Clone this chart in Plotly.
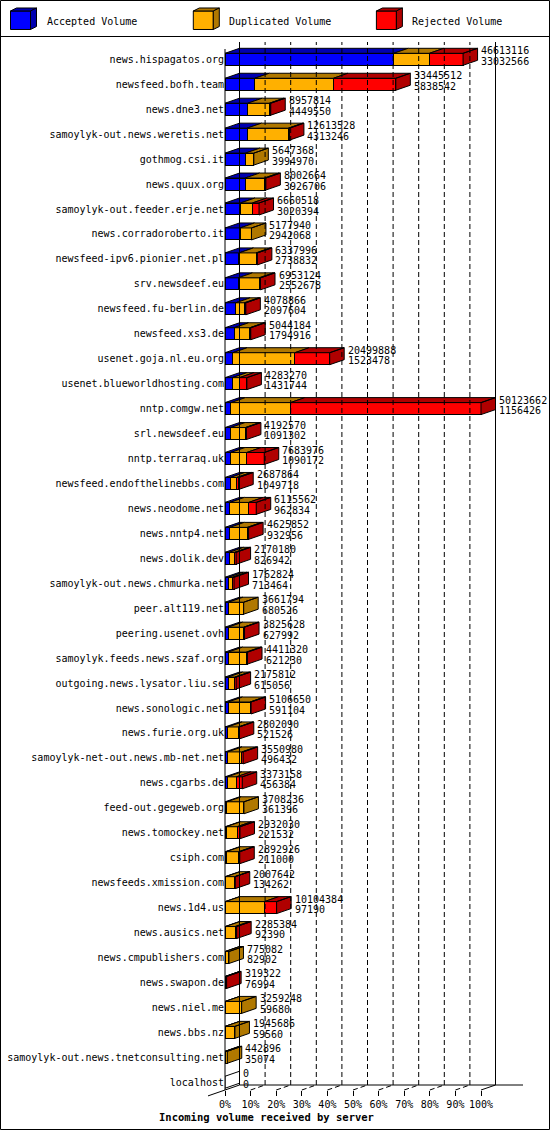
import plotly.graph_objects as go

# incoming volume per server (bytes)
servers = [
    "news.hispagatos.org", "newsfeed.bofh.team", "news.dne3.net",
    "samoylyk-out.news.weretis.net", "gothmog.csi.it", "news.quux.org",
    "samoylyk-out.feeder.erje.net", "news.corradoroberto.it",
    "newsfeed-ipv6.pionier.net.pl", "srv.newsdeef.eu", "newsfeed.fu-berlin.de",
    "newsfeed.xs3.de", "usenet.goja.nl.eu.org", "usenet.blueworldhosting.com",
    "nntp.comgw.net", "srl.newsdeef.eu", "nntp.terraraq.uk",
    "newsfeed.endofthelinebbs.com", "news.neodome.net", "news.nntp4.net",
    "news.dolik.dev", "samoylyk-out.news.chmurka.net", "peer.alt119.net",
    "peering.usenet.ovh", "samoylyk.feeds.news.szaf.org",
    "outgoing.news.lysator.liu.se", "news.sonologic.net", "news.furie.org.uk",
    "samoylyk-net-out.news.mb-net.net", "news.cgarbs.de", "feed-out.gegeweb.org",
    "news.tomockey.net", "csiph.com", "newsfeeds.xmission.com", "news.1d4.us",
    "news.ausics.net", "news.cmpublishers.com", "news.swapon.de", "news.niel.me",
    "news.bbs.nz", "samoylyk-out.news.tnetconsulting.net", "localhost",
]
total = [
    46613116, 33445512, 8957814, 12613528, 5647368, 8002664, 6660518, 5177940,
    6337996, 6953124, 4078866, 5044184, 20499888, 4283270, 50123662, 4192570,
    7683976, 2687864, 6115562, 4625852, 2170180, 1762824, 3661794, 3825628,
    4411320, 2175812, 5106650, 2802090, 3550980, 3373158, 3708236, 2932030,
    2892926, 2007642, 10104384, 2285384, 775082, 319322, 3259248, 1945686,
    442896, 0,
]
accepted = [
    33032566, 5838542, 4449550, 4313246, 3994970, 3926706, 3020394, 2942068,
    2738832, 2552678, 2097604, 1794916, 1523478, 1431744, 1156426, 1091302,
    1090172, 1049718, 962834, 932956, 826942, 713464, 680526, 627992,
    621230, 615056, 591104, 521526, 496432, 456384, 361396, 221532,
    211000, 134262, 97190, 92390, 82902, 76994, 59680, 59560,
    35074, 0,
]
# duplicated / rejected split estimated from the bar segments
duplicated = [
    7000000, 15400000, 4250000, 8100000, 1652398, 3780000, 2330000, 2235872,
    3340000, 4110000, 1690000, 3050000, 12140000, 1380000, 11650000, 2890000,
    3160000, 1250000, 3680000, 3440000, 1070000, 730000, 2981268, 3040000,
    3560000, 1340000, 4310000, 2090000, 2830000, 1760000, 3346840, 2130000,
    2470000, 1770000, 7610000, 1880000, 692180, 60000, 3199568, 1886126,
    407822, 0,
]
rejected = [
    6580550, 12206970, 258264, 200282, 0, 295958, 1310124, 0,
    259164, 290446, 291262, 199268, 6836410, 1471526, 37317236, 211268,
    3433804, 388146, 1472728, 252896, 273238, 319360, 0, 157636,
    230090, 220756, 205546, 190564, 224548, 1156774, 0, 580498,
    211926, 103380, 2397194, 312994, 0, 182328, 0, 0,
    0, 0,
]
pct_labels = ["0%", "10%", "20%", "30%", "40%", "50%", "60%", "70%", "80%", "90%", "100%"]

BLUE, ORANGE, RED = "#0000FF", "#FFB000", "#FF0000"
BLUE_D, ORANGE_D, RED_D = "#0000B0", "#B07800", "#B00000"
FONT = "DejaVu Sans Mono"

W, H = 550, 1130
L, R, T, B = 225, 550, 36, 1090   # plot area in px
ROW = 24.95                        # px per server row
FULL = 256                         # px used by the largest total
n = len(servers)
xmax = max(total)
dx = xmax * 14.5 / FULL            # 3d depth, in data units
dy = 5 / ROW
half = 0.24
y_top = -(59.3 - T) / ROW


def px(x):
    return (x - L) / (R - L)


def py(y):
    return (B - y) / (B - T)


def poly(store, xs, ys):
    store[0].extend(xs + [xs[0], None])
    store[1].extend(ys + [ys[0], None])


# top and end faces of the 3d bars
faces = {BLUE_D: ([], []), ORANGE_D: ([], []), RED_D: ([], []), "white": ([], [])}
for i in range(n):
    x0 = 0
    last = "white"
    yt, yb = i - half, i + half
    for val, dark in zip((accepted[i], duplicated[i], rejected[i]), (BLUE_D, ORANGE_D, RED_D)):
        if val > 0:
            x1 = x0 + val
            poly(faces[dark], [x0, x1, x1 + dx, x0 + dx], [yt, yt, yt - dy, yt - dy])
            x0 = x1
            last = dark
    poly(faces[last], [x0, x0, x0 + dx, x0 + dx], [yb, yt, yt - dy, yb - dy])

fig = go.Figure()
for vals, col, name in ((accepted, BLUE, "Accepted Volume"),
                        (duplicated, ORANGE, "Duplicated Volume"),
                        (rejected, RED, "Rejected Volume")):
    fig.add_trace(go.Bar(y=list(range(n)), x=vals, orientation="h", width=2 * half, name=name,
                         marker=dict(color=col, line=dict(color="black", width=1)),
                         hoverinfo="skip"))
for col, (xs, ys) in faces.items():
    fig.add_trace(go.Scatter(x=xs, y=ys, mode="lines", fill="toself", fillcolor=col,
                             line=dict(color="black", width=1), hoverinfo="skip"))

# numbers to the right of each bar
for i in range(n):
    for txt, shift in ((total[i], 8.5), (accepted[i], -2)):
        fig.add_annotation(x=total[i], y=i, text=str(txt), showarrow=False,
                           xanchor="left", yanchor="middle", xshift=16, yshift=shift,
                           font=dict(family=FONT, size=10, color="black"))

shapes = []
# back wall grid + floor depth lines
for k in range(11):
    xk = xmax * k / 10
    dash = "solid" if k in (0, 10) else "5px,3px"
    shapes.append(dict(type="line", xref="x", yref="paper", x0=xk + dx, x1=xk + dx,
                       y0=py(1085), y1=py(42), line=dict(color="black", width=1, dash=dash)))
    if k > 0:
        shapes.append(dict(type="line", xref="x", yref="paper", x0=xk, x1=xk + dx,
                           y0=py(1090), y1=py(1085), line=dict(color="black", width=1, dash=dash)))
frame = [
    ((225, 49), (225, 1090)),
    ((239.5, 1085), (523, 1085)),
    ((208, 1095.9), (239.5, 1085)),
    ((0, 36.5), (550, 36.5)),
]
for (xa, ya), (xb, yb) in frame:
    shapes.append(dict(type="line", xref="paper", yref="paper", x0=px(xa), y0=py(ya),
                       x1=px(xb), y1=py(yb), line=dict(color="black", width=1)))
shapes.append(dict(type="rect", xref="paper", yref="paper", x0=px(0.5), y0=py(0.5),
                   x1=px(549.5), y1=py(1129.5), line=dict(color="black", width=1)))


def path(points):
    return "M " + " L ".join(f"{px(a):.5f},{py(b):.5f}" for a, b in points) + " Z"


# legend with 3d boxes
legend = [(10.5, BLUE, BLUE_D, "Accepted Volume"),
          (193.3, ORANGE, ORANGE_D, "Duplicated Volume"),
          (376.4, RED, RED_D, "Rejected Volume")]
for left, col, dark, label in legend:
    a, b, t0, b0 = left, left + 20, 11, 29.5
    for pts, c in (([(a, t0), (b, t0), (b, b0), (a, b0)], col),
                   ([(a, t0), (b, t0), (b + 6, t0 - 3), (a + 6, t0 - 3)], dark),
                   ([(b, t0), (b, b0), (b + 6, b0 - 3), (b + 6, t0 - 3)], dark)):
        shapes.append(dict(type="path", xref="paper", yref="paper", path=path(pts),
                           fillcolor=c, line=dict(color="black", width=1)))
    fig.add_annotation(xref="paper", yref="paper", x=px(left + 34), y=py(21), text=label,
                       showarrow=False, xanchor="left", yanchor="middle",
                       font=dict(family=FONT, size=10, color="black"))

fig.add_annotation(xref="paper", yref="paper", x=px(266.8), y=py(1117.3),
                   text="<b>Incoming volume received by server</b>", showarrow=False,
                   xanchor="center", yanchor="middle",
                   font=dict(family=FONT, size=10.5, color="black"))

fig.update_layout(
    width=W, height=H,
    margin=dict(l=L, r=W - R, t=T, b=H - B),
    barmode="stack", showlegend=False,
    plot_bgcolor="white", paper_bgcolor="white",
    font=dict(family=FONT, size=10, color="black"),
    shapes=shapes,
    xaxis=dict(range=[0, xmax * (R - L) / FULL], showgrid=False, zeroline=False,
               tickvals=[xmax * k / 10 for k in range(11)], ticktext=pct_labels,
               ticks="outside", ticklen=5, tickcolor="black", showline=False,
               automargin=False,
               tickfont=dict(family=FONT, size=10, color="black")),
    yaxis=dict(range=[y_top + (B - T) / ROW, y_top], showgrid=False, zeroline=False,
               tickvals=list(range(n)), ticktext=servers, ticks="", automargin=False,
               tickfont=dict(family=FONT, size=10, color="black")),
)

# the page's default body margin would push the fixed-size figure off by 8px
fig.write_html("out.html", config={"displayModeBar": False},
               post_script="document.body.style.margin = '0';")
